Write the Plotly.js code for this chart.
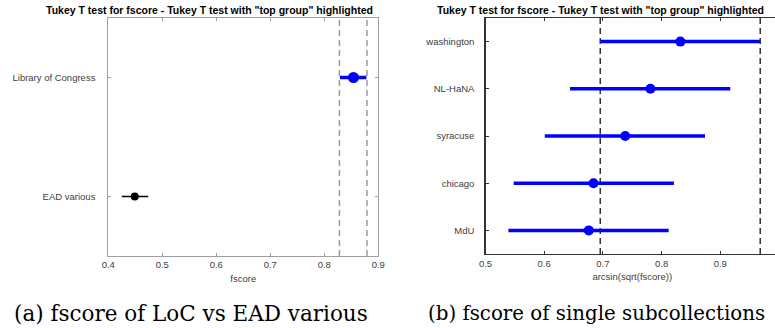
<!DOCTYPE html>
<html>
<head>
<meta charset="utf-8">
<script src="https://cdn.plot.ly/plotly-3.0.1.min.js"></script>
<style>
html, body { margin: 0; padding: 0; overflow: hidden; background: #fff; width: 775px; height: 328px; }
#chart { width: 790px; height: 328px; }
</style>
</head>
<body>
<div id="chart"></div>
<script>
// Panel (a): fscore of LoC vs EAD various
const groupsA = ['Library of Congress', 'EAD various'];
const meanA = [0.854, 0.449];
const lowA = [0.829, 0.425];
const highA = [0.878, 0.474];
const limitsA = [0.828, 0.879];
const ticksA = [0.4, 0.5, 0.6, 0.7, 0.8, 0.9];

// Panel (b): fscore of single subcollections (arcsin(sqrt(fscore)))
const groupsB = ['washington', 'NL-HaNA', 'syracuse', 'chicago', 'MdU'];
const meanB = [0.832, 0.781, 0.738, 0.684, 0.676];
const lowB = [0.6955, 0.644, 0.601, 0.548, 0.539];
const highB = [0.968, 0.917, 0.874, 0.821, 0.812];
const limitsB = [0.6955, 0.968];
const ticksB = [0.5, 0.6, 0.7, 0.8, 0.9];

const titleText = 'Tukey T test for fscore - Tukey T test with "top group" highlighted';
const captionA = '(a) fscore of LoC vs EAD various';
const captionB = '(b) fscore of single subcollections';

const W = 790, H = 328;
const px = v => v / W;
const py = v => (H - v) / H;

const blue = '#0000ff';

const traces = [
  {
    x: [meanA[0]], y: [groupsA[0]], xaxis: 'x', yaxis: 'y', type: 'scatter', mode: 'markers',
    marker: { color: blue, size: 11 },
    error_x: { type: 'data', symmetric: false, array: [highA[0] - meanA[0]], arrayminus: [meanA[0] - lowA[0]], color: blue, thickness: 3.5, width: 0 },
    hoverinfo: 'x+y', showlegend: false
  },
  {
    x: [meanA[1]], y: [groupsA[1]], xaxis: 'x', yaxis: 'y', type: 'scatter', mode: 'markers',
    marker: { color: '#000', size: 8 },
    error_x: { type: 'data', symmetric: false, array: [highA[1] - meanA[1]], arrayminus: [meanA[1] - lowA[1]], color: '#000', thickness: 1.5, width: 0 },
    hoverinfo: 'x+y', showlegend: false
  },
  {
    x: meanB, y: groupsB, xaxis: 'x2', yaxis: 'y2', type: 'scatter', mode: 'markers',
    marker: { color: blue, size: 10 },
    error_x: { type: 'data', symmetric: false,
      array: highB.map((h, i) => h - meanB[i]),
      arrayminus: lowB.map((l, i) => meanB[i] - l),
      color: blue, thickness: 3.5, width: 0 },
    hoverinfo: 'x+y', showlegend: false
  }
];

const tickFont = { family: 'Liberation Sans, Arial, sans-serif', size: 9.5, color: '#404040' };

const shapes = [];
limitsA.forEach(v => shapes.push({
  type: 'line', xref: 'x', yref: 'y domain', x0: v, x1: v, y0: 0, y1: 1,
  line: { color: '#9a9a9a', width: 1.5, dash: '6px,4px' }, layer: 'below'
}));
limitsB.forEach(v => shapes.push({
  type: 'line', xref: 'x2', yref: 'y2 domain', x0: v, x1: v, y0: 0, y1: 1,
  line: { color: '#333', width: 1.5, dash: '6px,4px' }, layer: 'below'
}));

const layout = {
  width: W, height: H,
  margin: { l: 0, r: 0, t: 0, b: 0 },
  paper_bgcolor: '#fff', plot_bgcolor: '#fff',
  showlegend: false,
  xaxis: {
    domain: [px(108.3), px(378.3)], anchor: 'y',
    range: [0.4, 0.9], tickmode: 'array', tickvals: ticksA, tickformat: '.1f',
    showgrid: false, zeroline: false,
    showline: true, linecolor: '#a0a0a0', linewidth: 1, mirror: 'allticks',
    ticks: 'inside', ticklen: 3, tickcolor: '#a0a0a0',
    tickfont: tickFont,
    title: { text: 'fscore', font: tickFont, standoff: 5 }
  },
  yaxis: {
    domain: [py(256), py(18)], anchor: 'x',
    type: 'category', categoryarray: groupsA, categoryorder: 'array',
    range: [1.5, -0.5],
    showgrid: false, zeroline: false,
    showline: true, linecolor: '#a0a0a0', linewidth: 1, mirror: 'allticks',
    ticks: 'inside', ticklen: 3, tickcolor: '#a0a0a0',
    tickfont: tickFont, ticklabelstandoff: 10
  },
  xaxis2: {
    domain: [px(485.5), px(779)], anchor: 'y2',
    range: [0.5, 1.0], tickmode: 'array', tickvals: ticksB, tickformat: '.1f',
    showgrid: false, zeroline: false,
    showline: true, linecolor: '#333', linewidth: 1.2, mirror: 'allticks',
    ticks: 'inside', ticklen: 3, tickcolor: '#333',
    tickfont: tickFont,
    title: { text: 'arcsin(sqrt(fscore))', font: tickFont, standoff: 5 }
  },
  yaxis2: {
    domain: [py(254), py(18)], anchor: 'x2',
    type: 'category', categoryarray: groupsB, categoryorder: 'array',
    range: [4.5, -0.5],
    showgrid: false, zeroline: false,
    showline: true, linecolor: '#333', linewidth: 1.2, mirror: 'allticks',
    ticks: 'inside', ticklen: 3, tickcolor: '#333',
    tickfont: tickFont, ticklabelstandoff: 8
  },
  shapes: shapes,
  annotations: [
    { text: '<b>' + titleText + '</b>', xref: 'paper', yref: 'paper', x: px(210), y: py(10), xanchor: 'center', yanchor: 'middle', showarrow: false,
      font: { family: 'Liberation Sans, Arial, sans-serif', size: 10.5, color: '#000' } },
    { text: '<b>' + titleText + '</b>', xref: 'paper', yref: 'paper', x: px(600), y: py(10), xanchor: 'center', yanchor: 'middle', showarrow: false,
      font: { family: 'Liberation Sans, Arial, sans-serif', size: 10.5, color: '#000' } },
    { text: captionA, xref: 'paper', yref: 'paper', x: px(191), y: py(313), xanchor: 'center', yanchor: 'middle', showarrow: false,
      font: { family: 'DejaVu Serif, serif', size: 21.5, color: '#000' } },
    { text: captionB, xref: 'paper', yref: 'paper', x: px(426), y: py(313), xanchor: 'left', yanchor: 'middle', showarrow: false,
      font: { family: 'DejaVu Serif, serif', size: 19.8, color: '#000' } }
  ]
};

Plotly.newPlot('chart', traces, layout, { displayModeBar: false, staticPlot: true });
</script>
</body>
</html>
